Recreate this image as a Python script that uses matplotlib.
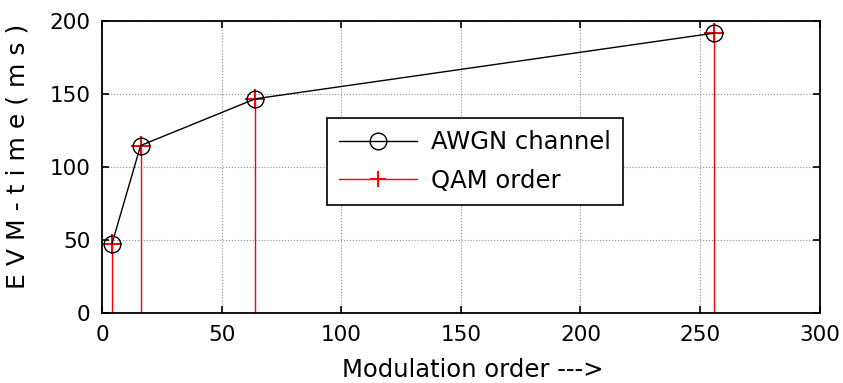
import matplotlib
matplotlib.use("Agg")
import matplotlib.pyplot as plt
from matplotlib.lines import Line2D

qam_order = [4, 16, 64, 256]
evm_time = [47, 114.5, 146.5, 191.5]
x_ticks = [0, 50, 100, 150, 200, 250, 300]
y_ticks = [0, 50, 100, 150, 200]

plt.rcParams['font.family'] = ['DejaVu Sans']

fig = plt.figure(figsize=(8.43, 3.83), dpi=100)
ax = fig.add_axes([0.1214, 0.1835, 0.8508, 0.7625])

ax.plot(qam_order, evm_time, color='black', lw=1.0, marker='o', markersize=12,
        markerfacecolor='none', markeredgecolor='black', markeredgewidth=1.0, zorder=3)
ml, sl, bl = ax.stem(qam_order, evm_time, linefmt='r-', markerfmt='r+', basefmt=' ')
sl.set_linewidth(1.0)
ml.set_markersize(15)
ml.set_markeredgewidth(1.4)

ax.set_xlim(0, 300)
ax.set_ylim(0, 200)
ax.set_xticks(x_ticks)
ax.set_yticks(y_ticks)
ax.tick_params(direction='in', length=5, width=1.2, labelsize=15.5, top=True, right=True)
ax.tick_params(axis='x', pad=8.5)
ax.tick_params(axis='y', pad=8.5)
ax.grid(True, linestyle=':', color='0.55', lw=0.8)
for s in ax.spines.values():
    s.set_linewidth(1.3)
    s.set_color('black')

ax.set_xlabel('Modulation order --->', fontsize=17.5)
ax.set_ylabel('E V M - t i m e ( m s )', fontsize=18)
ax.xaxis.set_label_coords(0.516, -0.155)
ax.yaxis.set_label_coords(-0.101, 0.535)

h1 = Line2D([], [], color='black', lw=1.0, marker='o', markersize=12, markerfacecolor='none')
h2 = Line2D([], [], color='red', lw=1.0, marker='+', markersize=12, markeredgewidth=1.4)
leg = ax.legend([h1, h2], ['AWGN channel', 'QAM order'], loc='upper left',
                bbox_to_anchor=(0.313, 0.667), fontsize=17.5, frameon=True, fancybox=False,
                edgecolor='black', framealpha=1, handlelength=3.2, borderpad=0.5,
                labelspacing=0.6, handletextpad=0.6, borderaxespad=0)
leg.get_frame().set_linewidth(1.2)

fig.savefig('out.png', dpi=100)
